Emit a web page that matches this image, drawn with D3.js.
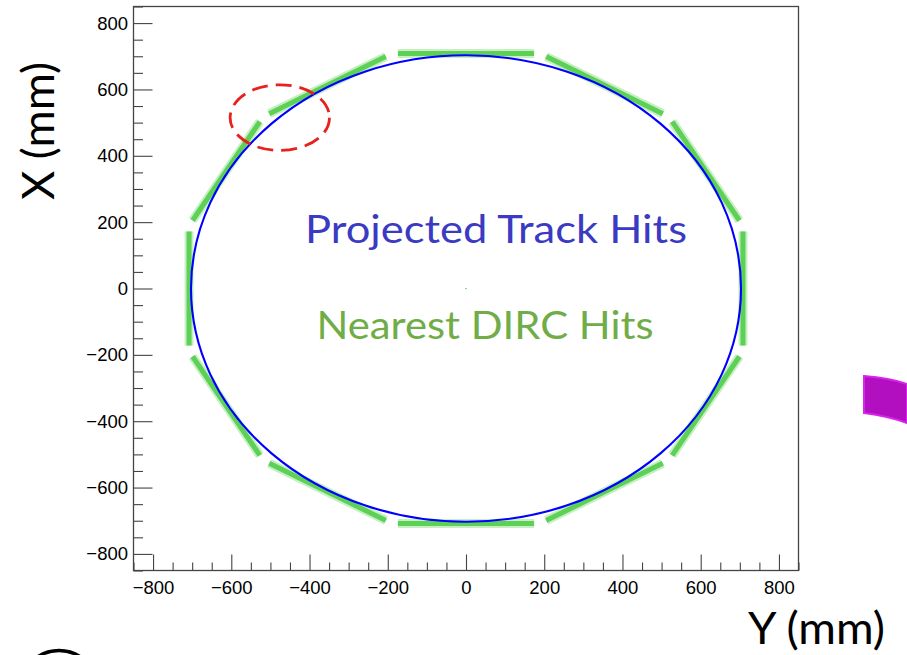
<!DOCTYPE html>
<html><head><meta charset="utf-8">
<script src="https://cdn.jsdelivr.net/npm/d3@7"></script>
<style>html,body{margin:0;padding:0;background:#fff;} svg{display:block}</style>
</head><body>
<svg id="c" width="907" height="655"></svg>
<script>
// ---- data (mm) ----
const axisDomain = [-850, 850];
const majorTicks = [-800, -600, -400, -200, 0, 200, 400, 600, 800];
const minorTicks = [-850,-750,-700,-650,-550,-500,-450,-350,-300,-250,-150,-100,-50,50,100,150,250,300,350,450,500,550,650,700,750,850];
// projected track hits: ring centred on origin
const trackCenter = [0, 0];
const trackRadius = 703;
// nearest DIRC hits: 12 bar-box faces (Y1,X1) -> (Y2,X2)
const faceY1 = [-174, 205, 527, 708, 699, 503, 174, -205, -527, -708, -699, -503];
const faceX1 = [708, 699, 503, -172, -205, -527, -708, -699, -503, -172, 205, 527];
const faceY2 = [174, 503, 699, 708, 527, 205, -174, -503, -699, -708, -527, -205];
const faceX2 = [708, 527, 205, 172, -503, -699, -708, -527, -205, 172, 503, 699];
const strayHits = [[0, 0]];
// highlighted region (dashed ellipse): centre Y, centre X, radius Y, radius X
const highlight = {cy: -476, cx: 515, ry: 127, rx: 99};

const svg = d3.select("#c");
const L = 133.5, R = 798.5, T = 6.5, B = 570.5;
const x = d3.scaleLinear().domain(axisDomain).range([L, R]);
const y = d3.scaleLinear().domain(axisDomain).range([B, T]);
const fmt = d => d < 0 ? "\u2212" + Math.abs(d) : String(d);

// ---- DIRC hits (green) ----
const faces = faceY1.map((v, i) => ({y1: v, x1: faceX1[i], y2: faceY2[i], x2: faceX2[i]}));
const g = svg.append("g");
g.selectAll("line.spray").data(faces).join("line").attr("class", "spray")
  .attr("x1", d => x(d.y1)).attr("y1", d => y(d.x1))
  .attr("x2", d => x(d.y2)).attr("y2", d => y(d.x2))
  .attr("stroke", "#8fe088").attr("stroke-opacity", 0.5).attr("stroke-width", 9);
g.selectAll("line.core").data(faces).join("line").attr("class", "core")
  .attr("x1", d => x(d.y1)).attr("y1", d => y(d.x1))
  .attr("x2", d => x(d.y2)).attr("y2", d => y(d.x2))
  .attr("stroke", "#5cd155").attr("stroke-width", 5);
g.selectAll("circle.stray").data(strayHits).join("circle").attr("class", "stray")
  .attr("cx", d => x(d[0])).attr("cy", d => y(d[1])).attr("r", 0.8).attr("fill", "#5cd155");

// ---- projected track hits (blue ring) ----
svg.append("ellipse")
  .attr("cx", x(trackCenter[0])).attr("cy", y(trackCenter[1]))
  .attr("rx", x(trackRadius) - x(0)).attr("ry", y(0) - y(trackRadius))
  .attr("fill", "none").attr("stroke", "#0000ff").attr("stroke-width", 2.1);

// ---- axes ----
const tickCol = "#444";
const ax = svg.append("g").attr("transform", `translate(0,${B})`);
ax.call(d3.axisBottom(x).tickValues(majorTicks).tickFormat(fmt).tickSizeInner(-16).tickSizeOuter(0).tickPadding(10));
const axm = svg.append("g").attr("transform", `translate(0,${B})`);
axm.call(d3.axisBottom(x).tickValues(minorTicks).tickFormat("").tickSizeInner(-8).tickSizeOuter(0));
const ay = svg.append("g").attr("transform", `translate(${L},0)`);
ay.call(d3.axisLeft(y).tickValues(majorTicks).tickFormat(fmt).tickSizeInner(-19).tickSizeOuter(0).tickPadding(5.5));
const aym = svg.append("g").attr("transform", `translate(${L},0)`);
aym.call(d3.axisLeft(y).tickValues(minorTicks).tickFormat("").tickSizeInner(-9.5).tickSizeOuter(0));
svg.selectAll(".domain").remove();
svg.selectAll(".tick line").attr("stroke", tickCol).attr("stroke-width", 1.1);
svg.selectAll(".tick text").attr("font-family", "'Liberation Sans', Arial, sans-serif")
  .attr("font-size", 18.5).attr("fill", "#000");

// frame
svg.append("rect").attr("x", L).attr("y", T).attr("width", R - L).attr("height", B - T)
  .attr("fill", "none").attr("stroke", tickCol).attr("stroke-width", 1.3);

// ---- highlight ellipse ----
svg.append("ellipse")
  .attr("cx", x(highlight.cy)).attr("cy", y(highlight.cx))
  .attr("rx", x(highlight.ry) - x(0)).attr("ry", y(0) - y(highlight.rx))
  .attr("fill", "none").attr("stroke", "#e8201e").attr("stroke-width", 2.8)
  .attr("stroke-dasharray", "16,8");

// ---- annotations ----
const tf = "Lato, 'Open Sans', sans-serif";
svg.append("text").attr("x", 305).attr("y", 243).text("Projected Track Hits")
  .attr("font-family", tf).attr("font-size", 38).attr("fill", "#3a3ac2")
  .attr("textLength", 382).attr("lengthAdjust", "spacingAndGlyphs");
svg.append("text").attr("x", 316.5).attr("y", 338.5).text("Nearest DIRC Hits")
  .attr("font-family", tf).attr("font-size", 38).attr("fill", "#70ad47")
  .attr("textLength", 337).attr("lengthAdjust", "spacingAndGlyphs");
svg.append("text").attr("transform", "translate(53.5,200) rotate(-90)").text("X (mm)")
  .attr("font-family", tf).attr("font-size", 44).attr("fill", "#000")
  .attr("textLength", 138).attr("lengthAdjust", "spacingAndGlyphs");
svg.append("text").attr("x", 748).attr("y", 644).text("Y (mm)")
  .attr("font-family", tf).attr("font-size", 44).attr("fill", "#000")
  .attr("textLength", 137).attr("lengthAdjust", "spacingAndGlyphs");

// ---- page fragments at edges ----
svg.append("path").attr("d", "M864,376 Q890,378 907,384 L907,423 Q888,416 864,413 Z")
  .attr("fill", "#b10fc0").attr("stroke", "#d924ec").attr("stroke-width", 2);
svg.append("circle").attr("cx", 59).attr("cy", 689).attr("r", 38.5)
  .attr("fill", "none").attr("stroke", "#000").attr("stroke-width", 3.5);
</script>
</body></html>
